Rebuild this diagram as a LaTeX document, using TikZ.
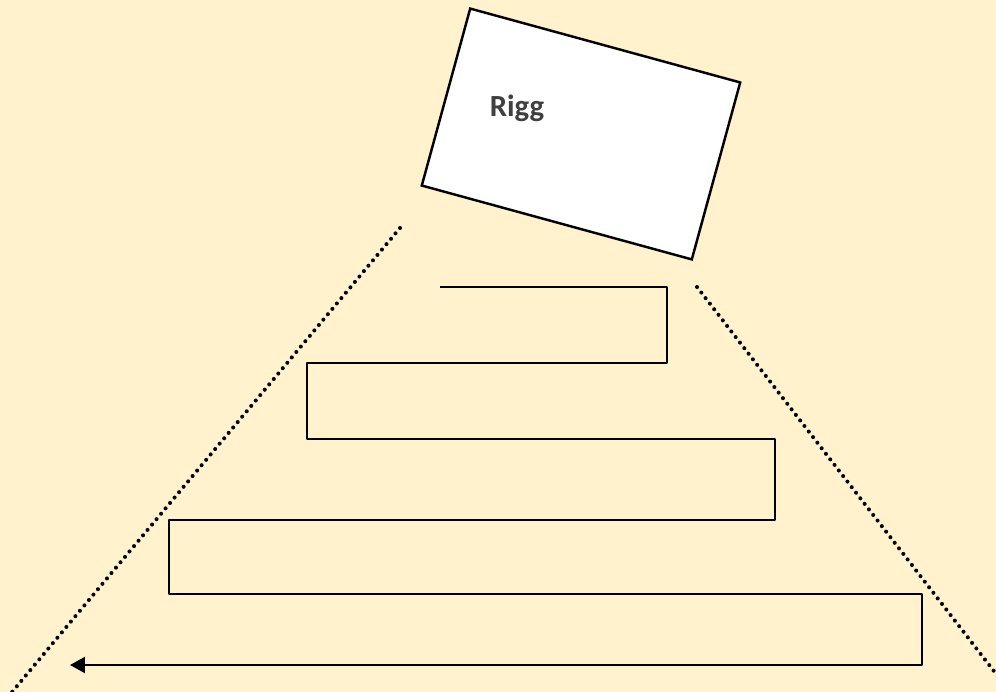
\documentclass[tikz,border=0pt]{standalone}
\usepackage{fontspec}
\setmainfont{Carlito}
\usetikzlibrary{arrows.meta}
\definecolor{bgyellow}{HTML}{FFF2CC}
\definecolor{labelgray}{HTML}{404040}

\begin{document}
\begin{tikzpicture}[x=0.02cm,y=-0.02cm,
  zigzag/.style={black,line width=1.5pt,line join=round},
  spread/.style={black,line width=2.3pt,line cap=round,dash pattern=on 0pt off 4pt}]
  \fill[bgyellow] (0,0) rectangle (996,692);
  \useasboundingbox (0,0) rectangle (996,692);
  % rig box
  \node[draw,fill=white,line width=1.4pt,inner sep=0pt,outer sep=0pt,
        minimum width=5.6cm,minimum height=3.67cm,rotate=-15.3] (rig) at (581,134) {};
  \node[text=labelgray,font=\fontsize{17.5}{20}\selectfont\bfseries] (riglabel) at (517,108) {Rigg};
  % dotted spread lines
  \coordinate (leftTop) at (400,228);
  \coordinate (leftBot) at (12,692);
  \coordinate (rightTop) at (697,287);
  \coordinate (rightBot) at (1000,679);
  \begin{scope}
    \clip (0,0) rectangle (996,692);
    \draw[spread] (leftTop) -- (leftBot);
    \draw[spread] (rightTop) -- (rightBot);
  \end{scope}
  % path
  \coordinate (p0) at (440,287);
  \coordinate (p1) at (667,287);
  \coordinate (p2) at (667,363);
  \coordinate (p3) at (307,363);
  \coordinate (p4) at (307,439);
  \coordinate (p5) at (775,439);
  \coordinate (p6) at (775,520);
  \coordinate (p7) at (169,520);
  \coordinate (p8) at (169,594);
  \coordinate (p9) at (922,594);
  \coordinate (p10) at (922,665);
  \coordinate (p11) at (70,665);
  \draw[zigzag,-{Triangle[length=8.5pt,width=9pt]}]
    (p0) -- (p1) -- (p2) -- (p3) -- (p4) -- (p5) -- (p6) -- (p7) -- (p8) -- (p9) -- (p10) -- (p11);
\end{tikzpicture}
\end{document}
